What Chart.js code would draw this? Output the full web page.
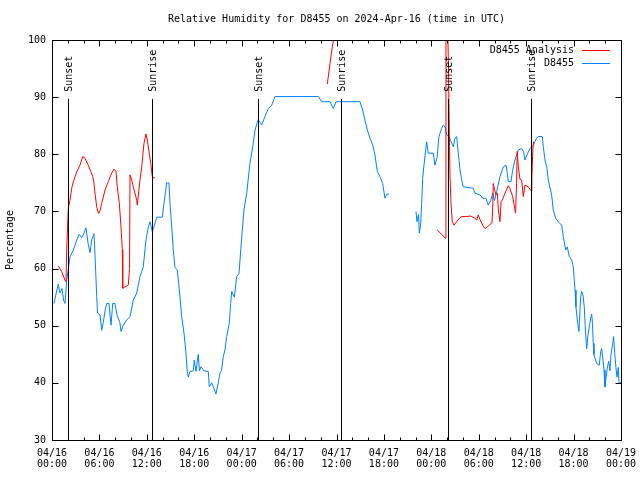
<!DOCTYPE html>
<html><head><meta charset="utf-8">
<script src="https://cdn.jsdelivr.net/npm/chart.js@4.4.1/dist/chart.umd.min.js"></script>
<style>html,body{margin:0;padding:0;background:#fff;overflow:hidden}canvas{display:block}</style>
</head><body>
<canvas id="c" width="640" height="480"></canvas>
<script>
// Hours since 2024-04-16 00:00 UTC
const tickLabels = [['04/16','00:00'],['04/16','06:00'],['04/16','12:00'],['04/16','18:00'],
  ['04/17','00:00'],['04/17','06:00'],['04/17','12:00'],['04/17','18:00'],
  ['04/18','00:00'],['04/18','06:00'],['04/18','12:00'],['04/18','18:00'],['04/19','00:00']];

const sunLabels = ['Sunset','Sunrise','Sunset','Sunrise','Sunset','Sunrise'];
const sunHours  = [2.06, 12.69, 26.1, 36.6, 50.15, 60.65];

const blueHours = [0.25,0.5,0.8,1.0,1.27,1.46,1.65,1.86,2.06,2.28,2.7,3.13,3.45,3.76,3.96,4.3,4.59,4.81,5.02,5.31,5.44,5.66,5.76,
  6.07,6.29,6.49,6.71,6.92,7.21,7.34,7.47,7.68,7.97,8.22,8.6,8.73,9.02,9.45,9.87,10.29,10.72,11.13,11.55,11.89,12.19,12.4,12.69,12.9,
  13.25,13.96,14.17,14.51,14.8,14.93,15.15,15.35,15.56,15.85,16.11,16.41,16.7,16.92,17.12,17.25,17.46,17.88,18.0,18.22,18.51,18.66,
  18.85,19.23,19.78,19.9,20.21,20.41,20.75,21.04,21.26,21.45,21.67,21.89,22.1,22.43,22.61,22.74,22.94,23.07,23.37,23.66,24.08,24.29,
  24.64,25.05,25.4,25.69,26.1,26.53,26.95,27.37,27.8,28.22,33.7,34.13,35.18,35.59,35.94,38.97,39.31,39.6,39.9,40.24,40.58,40.87,
  41.16,41.5,41.84,42.13,42.35,42.68,43.5,
  46.06,46.19,46.38,46.48,46.65,46.78,46.9,47.07,47.41,47.61,48.25,48.46,48.75,48.96,49.3,49.51,49.72,49.94,50.27,50.49,50.78,50.99,
  51.21,51.41,51.63,51.84,52.04,53.31,53.52,54.15,54.5,54.91,55.2,55.51,55.76,55.99,56.27,56.69,57.11,57.45,57.61,57.74,58.08,58.29,
  58.58,59.0,59.43,59.66,59.85,60.1,60.48,60.9,61.11,61.32,61.53,62.04,62.17,62.38,62.6,62.8,63.23,63.43,63.73,64.06,64.49,64.7,65.0,
  65.2,65.46,65.76,65.96,66.18,66.3,66.52,66.68,66.81,66.9,67.02,67.19,67.35,67.53,67.66,67.82,67.99,68.16,68.29,68.39,68.49,68.58,
  68.92,69.25,69.43,69.55,69.68,69.85,69.97,70.1,70.26,70.44,70.6,70.73,70.95,71.07,71.2,71.36,71.49,71.66,71.75,72.0];
const blueValues = [53.9,55.5,57.3,55.7,56.5,54.5,53.9,58,59.8,62.1,63.2,65,66,65.4,65.9,67.1,64.2,62.8,65,66.1,62.5,55.1,52.2,
  51.9,49.2,50.6,52.6,53.9,53.9,51.9,50.1,53.9,53.9,51.9,50.5,49.0,50.1,51,51.6,54.5,55.7,58.6,60.3,65,67.3,68.2,66.5,67.3,
  69,69,71.4,75,75,71.4,67.3,63.2,60.2,59.8,56.3,51.6,48.7,45.75,42,41,42,42.1,44,42,45,42.1,
  42.8,42.1,42,39.3,40,39.3,38.05,40,41.7,42.2,44.6,45.75,48.1,50.4,53.9,56,55.4,55,58.6,59.1,66.75,70.25,
  73.2,78.4,81.3,84.25,86.1,85.1,86.6,88,88.6,90.1,90.1,89.2,89.2,88,89.2,89.2,87.75,86,84.25,82.8,81.6,79.9,
  77,76.1,74.9,72.3,73,73.05,null,
  70,68.2,69.5,66.2,67.8,71.4,75.8,78.1,82.2,80.2,80.2,78.1,79.6,83.1,84.5,85.1,84.9,83.4,83.1,82.2,81.3,82.8,
  83.1,80.2,77.25,75.5,74.3,74.05,73.2,72.9,72.3,72.3,71.1,71.9,73.2,71.9,73.5,76.1,77.8,78.1,76.7,75.2,75.2,77.2,
  79,80.75,81,80.5,79,79.9,81,81.6,82.2,82.8,83.1,83.1,81.3,79,77.8,75.5,72.8,70.25,68.8,68.2,67.6,65.6,63.25,
  63.8,62.1,61.5,60.3,56.25,53.3,50.4,49,52.75,55,56,55.4,53.3,48.4,46,48.4,49.8,51.2,52.05,50.4,46.9,44.9,
  43.4,43.1,45.45,46,44.5,42.25,39.3,40.8,42.5,43.8,42.1,44.9,46.9,48.1,45.2,42.7,41,42.7,40,40];

const redHours = [0.8,1.23,1.64,1.77,1.86,2.06,2.28,2.49,2.7,3.13,3.54,3.88,4.18,4.59,4.9,5.15,5.31,5.44,5.66,5.86,6.01,6.29,6.71,
  7.12,7.55,7.84,8.1,8.26,8.52,8.73,8.9,8.95,9.24,9.65,9.81,9.87,10.08,10.29,10.72,10.79,11.13,11.35,11.64,11.89,12.06,12.31,12.49,
  12.69,13.03,14.0,
  34.84,35.18,35.47,35.81,36.5,
  48.75,49.09,49.51,49.77,49.85,50.04,50.14,50.36,50.49,50.65,50.87,51.21,51.54,51.84,52.38,52.98,53.52,53.74,53.94,54.15,54.5,
  54.79,55.08,55.42,55.67,55.76,55.84,56.02,56.18,56.35,56.48,56.69,56.82,56.98,57.32,57.74,57.95,58.29,58.49,58.66,58.79,58.87,
  59.0,59.22,59.43,59.64,59.85,60.27,60.64,60.72,60.84,60.93];
const redValues = [60.45,59.45,58,57.7,63.25,70.5,72,74.05,75.2,76.9,78.1,79.6,79.3,78.1,77,76.1,75,73.2,70.8,69.7,69.8,71.4,73.75,
  75.2,76.7,77.4,77,74.3,71.4,67.3,63.25,56.55,56.8,57.1,60,76.4,75.5,74.3,72,71.1,75.5,77.8,81.9,83.55,82.5,80.2,78.4,
  76.1,75.8,null,
  92.3,95.9,98.8,101.5,null,
  66.75,66.3,65.7,65.3,106,104,97.4,76.4,71.4,68.2,67.6,68.2,68.8,69.1,69.1,69.2,68.8,68.5,69.4,68.6,67.6,
  67,67.3,67.7,68,70.25,74.9,73.75,72.9,73.2,70.25,68.2,71.7,72,73.2,74.5,74,72.6,71.1,69.7,74.9,80.5,
  77.9,75.6,75.5,72.6,74.6,74.3,73.6,75.8,80.75,82.2];

const FONT = 'DejaVu Sans Mono';
Chart.defaults.font.family = FONT;
Chart.defaults.font.size = 10;
Chart.defaults.color = '#000';

const gnuplotFrame = {
  id: 'gnuplotFrame',
  afterDatasetsDraw(chart) {
    const {ctx, chartArea: a, scales: {x, y}} = chart;
    ctx.save();
    ctx.strokeStyle = '#000';
    ctx.lineWidth = 1;
    // sunrise/sunset lines
    const yb = y.getPixelForValue(30), yt = y.getPixelForValue(89.7);
    sunHours.forEach((h, i) => {
      const px = Math.round(x.getPixelForValue(h)) + 0.5;
      ctx.beginPath(); ctx.moveTo(px, yb); ctx.lineTo(px, yt); ctx.stroke();
      ctx.save();
      ctx.translate(px + 0.5, yt - 7);
      ctx.rotate(-Math.PI / 2);
      ctx.fillStyle = '#000';
      ctx.font = '10px ' + FONT;
      ctx.textAlign = 'left'; ctx.textBaseline = 'middle';
      ctx.fillText(sunLabels[i], 0, 0);
      ctx.restore();
    });
    // frame
    const L = Math.round(a.left) + 0.5, R = Math.round(a.right) + 0.5;
    const T = Math.round(a.top) + 0.5, B = Math.round(a.bottom) + 0.5;
    ctx.strokeRect(L, T, R - L, B - T);
    // x ticks (every 2 hours, inward, mirrored)
    ctx.beginPath();
    for (let h = 0; h <= 72; h += 2) {
      const px = Math.round(x.getPixelForValue(h)) + 0.5;
      const len = (h % 6 === 0) ? 6 : 3;
      ctx.moveTo(px, B); ctx.lineTo(px, B - len);
      ctx.moveTo(px, T); ctx.lineTo(px, T + len);
    }
    for (let v = 30; v <= 100; v += 10) {
      const py = Math.round(y.getPixelForValue(v)) + 0.5;
      ctx.moveTo(L, py); ctx.lineTo(L + 6, py);
      ctx.moveTo(R, py); ctx.lineTo(R - 6, py);
    }
    ctx.stroke();
    // legend (gnuplot style: text then line sample)
    ctx.font = '10px ' + FONT;
    ctx.textAlign = 'right'; ctx.textBaseline = 'middle';
    chart.data.datasets.forEach((ds, i) => {
      const ly = Math.round(a.top + 9.5 + i * 13) + 0.5;
      ctx.fillStyle = '#000';
      ctx.fillText(ds.label, a.right - 47, ly);
      ctx.strokeStyle = ds.borderColor;
      ctx.beginPath(); ctx.moveTo(a.right - 39, ly); ctx.lineTo(a.right - 11, ly); ctx.stroke();
    });
    ctx.restore();
  }
};

const toPoints = (hs, vs) => hs.map((h, i) => ({x: h, y: vs[i]}));

new Chart(document.getElementById('c'), {
  type: 'line',
  data: {
    datasets: [
      {label: 'D8455 Analysis', data: toPoints(redHours, redValues), borderColor: '#ff0000',
       borderWidth: 1, pointRadius: 0, spanGaps: false, clip: 0, tension: 0},
      {label: 'D8455', data: toPoints(blueHours, blueValues), borderColor: 'rgb(0,128,255)',
       borderWidth: 1, pointRadius: 0, spanGaps: false, clip: 0, tension: 0}
    ]
  },
  options: {
    responsive: false, animation: false, devicePixelRatio: 1,
    layout: {padding: {left: 0, right: 19, top: 0, bottom: 0}},
    plugins: {
      legend: {display: false}, tooltip: {enabled: false},
      title: {display: true, text: 'Relative Humidity for D8455 on 2024-Apr-16 (time in UTC)',
        fullSize: false, color: '#000', font: {size: 10, weight: 'normal', family: FONT, lineHeight: 1.2},
        padding: {top: 13, bottom: 15}}
    },
    scales: {
      x: {type: 'linear', min: 0, max: 72,
        grid: {display: false, drawTicks: false}, border: {display: false},
        ticks: {stepSize: 6, autoSkip: false, maxRotation: 0, padding: 8,
          font: {size: 10, lineHeight: 1.1},
          callback: (v) => tickLabels[Math.round(v / 6)]},
        afterFit: s => { s.height = 40; s.paddingLeft = 0; s.paddingRight = 0; }},
      y: {min: 30, max: 100,
        grid: {display: false, drawTicks: false}, border: {display: false},
        ticks: {stepSize: 10, padding: 6},
        title: {display: true, text: 'Percentage', font: {size: 10}, padding: {top: 4, bottom: 0}},
        afterFit: s => { s.width = 52; s.paddingTop = 0; s.paddingBottom = 0; }}
    }
  },
  plugins: [gnuplotFrame]
});
</script>
</body></html>
